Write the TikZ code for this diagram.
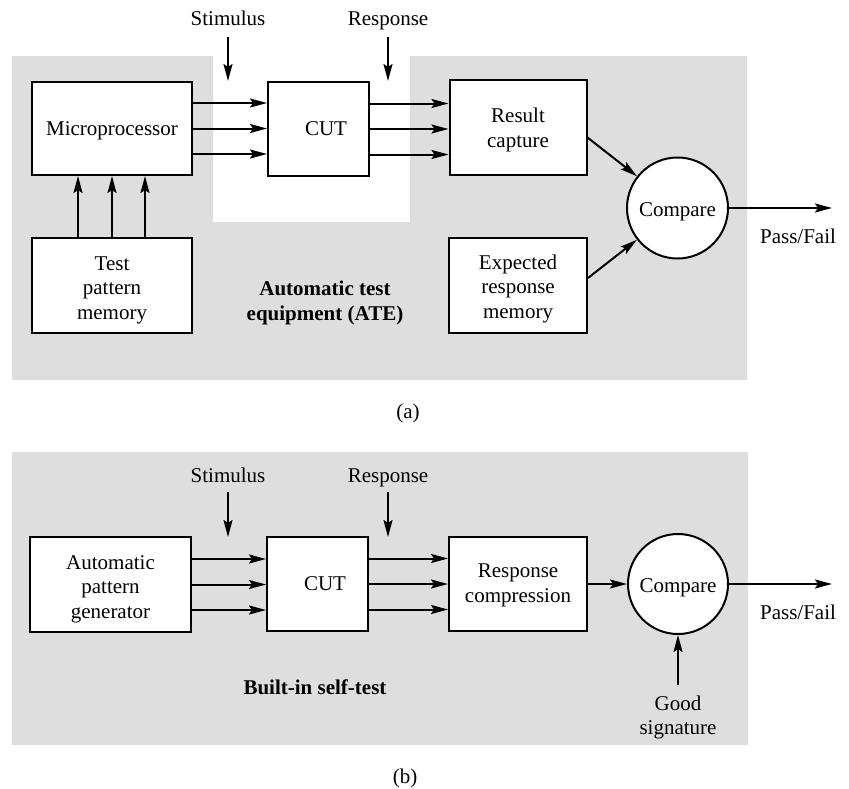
\documentclass[tikz,border=0pt]{standalone}
\usepackage{fontspec}
\setmainfont{Liberation Serif}
\usetikzlibrary{arrows.meta,calc}
\definecolor{panelgray}{RGB}{222,222,222}
\newcommand{\stk}[1]{\begin{tabular}[b]{@{}c@{}}#1\end{tabular}}
\tikzset{
  txtfont/.style={font=\fontsize{21}{24.5}\selectfont},
  blk/.style={draw, line width=2pt, fill=white, inner sep=0pt, text depth=0pt, txtfont},
  cmpnode/.style={circle, draw, line width=2pt, fill=white, inner sep=0pt,
    text depth=0pt, text height=16pt, minimum size=101pt, txtfont},
  lbl/.style={inner sep=0pt, anchor=base, txtfont},
  blbl/.style={lbl, font=\fontsize{21}{24.5}\selectfont\bfseries},
  arr/.style={line width=2pt, -{Stealth[length=17pt,width=9pt,inset=3pt]}},
}
\begin{document}
\begin{tikzpicture}[x=1pt,y=-1pt]
\useasboundingbox (0,0) rectangle (849,788);
% ---------- panel (a) ----------
\fill[panelgray] (12,56) -- (213,56) -- (213,222) -- (410,222) -- (410,56)
  -- (747,56) -- (747,380) -- (12,380) -- cycle;
\node[blk, minimum width=160pt, minimum height=93pt, text height=13pt] (mp) at (112,128.5) {Microprocessor};
\node[blk, minimum width=160pt, minimum height=95pt, text height=67pt] (tpm) at (112,285.5) {\stk{Test\\pattern\\memory}};
\node[blk, minimum width=101pt, minimum height=94pt, text height=12pt] (cuta) at (318.5,129) {\hspace*{15pt}CUT};
\node[blk, minimum width=137pt, minimum height=95pt, text height=39pt] (rc) at (518,127.5) {\stk{Result\\capture}};
\node[blk, minimum width=138pt, minimum height=95pt, text height=65pt] (erm) at (518,285.5) {\stk{Expected\\response\\memory}};
\node[cmpnode] (cmpa) at (677.5,208) {Compare};
\node[lbl] (stima) at (228,25) {Stimulus};
\node[lbl] (respa) at (388,25) {Response};
\coordinate (stimatop) at (228,37);
\coordinate (stimabot) at (228,81);
\coordinate (respatop) at (388,37);
\coordinate (respabot) at (388,81);
\draw[arr] (stimatop) -- (stimabot);
\draw[arr] (respatop) -- (respabot);
\foreach \dy in {25.5,0,-25.5}{
  \draw[arr] ([yshift=\dy pt]mp.east) -- ([yshift=\dy pt]mp.east -| cuta.west);
  \draw[arr] ([yshift=\dy pt]cuta.east) -- ([yshift=\dy pt]cuta.east -| rc.west);
}
\foreach \dx in {-34,0,33}{
  \draw[arr] ([xshift=\dx pt]tpm.north) -- ([xshift=\dx pt]mp.south);
}
\draw[arr] ([yshift=-10pt]rc.east) -- (cmpa);
\draw[arr] ([yshift=7.5pt]erm.east) -- (cmpa);
\coordinate (pfa) at (832,208);
\draw[arr] (cmpa.east) -- (pfa);
\node[lbl] (pfalbl) at (798,243) {Pass/Fail};
\node[blbl] (atelbl) at (325,320) {\stk{Automatic test\\equipment (ATE)}};
\node[lbl] (capa) at (408,418) {(a)};
% ---------- panel (b) ----------
\fill[panelgray] (12,452) rectangle (748,745);
\node[blk, minimum width=161pt, minimum height=95pt, text height=67pt] (apg) at (110.5,584.5) {\stk{Automatic\\pattern\\generator}};
\node[blk, minimum width=101pt, minimum height=94pt, text height=12pt] (cutb) at (317.5,584) {\hspace*{15pt}CUT};
\node[blk, minimum width=138pt, minimum height=94pt, text height=36pt] (rcomp) at (518,584) {\stk{Response\\compression}};
\node[cmpnode, minimum size=100pt] (cmpb) at (678,584) {Compare};
\node[lbl] (stimb) at (228,482) {Stimulus};
\node[lbl] (respb) at (388,482) {Response};
\coordinate (stimbtop) at (228,492);
\coordinate (stimbbot) at (228,537);
\coordinate (respbtop) at (388,492);
\coordinate (respbbot) at (388,537);
\draw[arr] (stimbtop) -- (stimbbot);
\draw[arr] (respbtop) -- (respbbot);
\foreach \dy in {25.5,0,-25.5}{
  \draw[arr] ([yshift=\dy pt]apg.east) -- ([yshift=\dy pt]apg.east -| cutb.west);
  \draw[arr] ([yshift=\dy pt]cutb.east) -- ([yshift=\dy pt]cutb.east -| rcomp.west);
}
\draw[arr] (rcomp.east) -- (cmpb.west);
\coordinate (pfb) at (832,584);
\draw[arr] (cmpb.east) -- (pfb);
\node[lbl] (pfblbl) at (798,619) {Pass/Fail};
\coordinate (gsig) at (678,685);
\draw[arr] (gsig) -- (cmpb.south);
\node[lbl, font=\fontsize{21}{24}\selectfont] (gsiglbl) at (678,734) {\stk{Good\\signature}};
\node[blbl] (bistlbl) at (315,694) {Built-in self-test};
\node[lbl] (capb) at (405,783) {(b)};
\end{tikzpicture}
\end{document}
